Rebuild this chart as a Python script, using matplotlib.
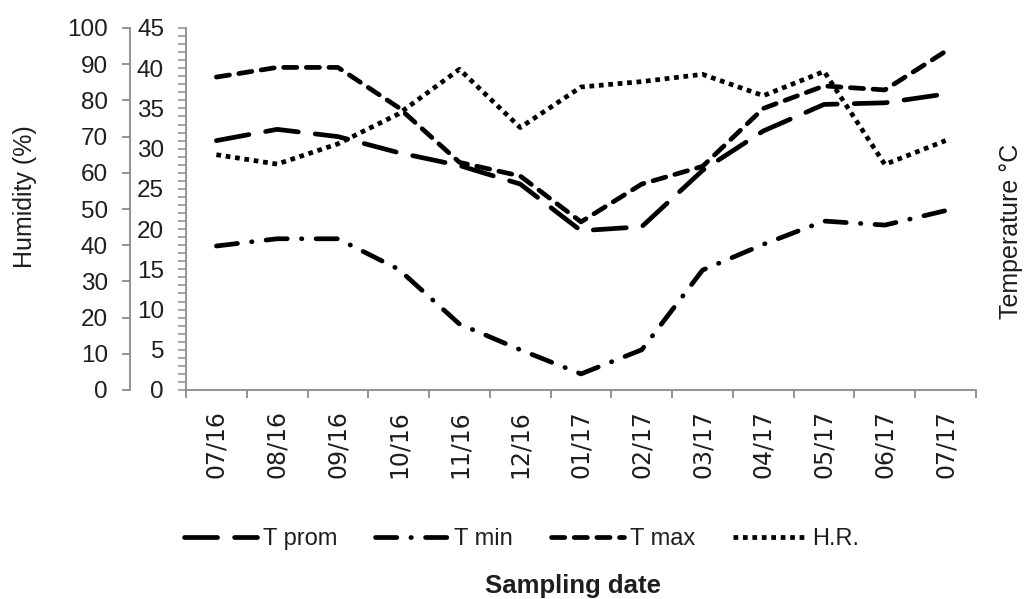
import matplotlib
matplotlib.use('Agg')
import matplotlib.pyplot as plt
from matplotlib.ticker import MultipleLocator
import numpy as np

dates = ['07/16', '08/16', '09/16', '10/16', '11/16', '12/16', '01/17',
         '02/17', '03/17', '04/17', '05/17', '06/17', '07/17']
t_prom = [31.0, 32.4, 31.5, 29.5, 27.9, 25.6, 19.8, 20.3, 27.3, 32.2, 35.5, 35.7, 36.8]
t_min = [17.9, 18.8, 18.8, 15.0, 8.2, 5.0, 2.0, 5.0, 14.9, 18.1, 21.0, 20.5, 22.3]
t_max = [38.9, 40.1, 40.1, 35.1, 28.3, 26.6, 20.9, 25.6, 27.8, 35.0, 37.8, 37.3, 42.1]
hr = [65.0, 62.4, 68.0, 76.3, 88.6, 72.5, 83.7, 85.2, 87.2, 81.3, 88.0, 62.3, 68.9]

W, H = 1024, 599
GRAY = '#8a8a8a'
TXT = '#1e1e1e'
PX = 72 / 100.0  # points per pixel

fig = plt.figure(figsize=(W / 100, H / 100), dpi=100)
ax = fig.add_axes([186 / W, 1 - 390 / H, (976 - 186) / W, (390 - 28) / H])
ax2 = ax.twinx()

x = np.arange(len(dates))
lw = 3.4
l1, = ax.plot(x, t_prom, color='black', lw=lw, dashes=(7.0, 3.6),
              dash_capstyle='round', label='T prom')
l2, = ax.plot(x, t_min, color='black', lw=lw, dashes=(4.5, 3.0, 0.1, 3.0),
              dash_capstyle='round', label='T min')
l3, = ax.plot(x, t_max, color='black', lw=lw, dashes=(2.8, 2.0),
              dash_capstyle='round', label='T max')
l4, = ax2.plot(x, hr, color='black', lw=lw, dashes=(1.0, 1.0),
               dash_capstyle='butt', label='H.R.')

ax.set_xlim(-0.5, len(dates) - 0.5)
ax.set_ylim(0, 45)
ax2.set_ylim(0, 100)

# spines
for a in (ax, ax2):
    a.spines['top'].set_visible(False)
    a.spines['right'].set_visible(False)
ax2.spines['bottom'].set_visible(False)
ax.spines['left'].set_color(GRAY)
ax.spines['bottom'].set_color(GRAY)
ax.spines['left'].set_linewidth(1.3)
ax.spines['bottom'].set_linewidth(1.3)

# humidity axis moved left
ax2.yaxis.set_ticks_position('left')
ax2.yaxis.set_label_position('left')
ax2.spines['left'].set_visible(True)
ax2.spines['left'].set_position(('outward', 56 * PX))
ax2.spines['left'].set_color(GRAY)
ax2.spines['left'].set_linewidth(1.3)
ax2.yaxis.set_major_locator(MultipleLocator(10))
ax2.tick_params(axis='y', which='major', length=8 * PX, width=1.3, color=GRAY,
                pad=14 * PX, labelsize=17.5, labelcolor=TXT)

# temperature axis
ax.yaxis.set_major_locator(MultipleLocator(5))
ax.yaxis.set_minor_locator(MultipleLocator(1))
ax.tick_params(axis='y', which='both', length=8 * PX, width=1.1, color=GRAY)
ax.tick_params(axis='y', which='major', pad=14 * PX, labelsize=17.5, labelcolor=TXT)

# x axis
ax.set_xticks(np.arange(-0.5, len(dates), 1.0))
ax.set_xticklabels([])
ax.set_xticks(x, minor=True)
ax.set_xticklabels(dates, minor=True, rotation=90, family='DejaVu Sans',
                   fontsize=17, color=TXT)
ax.tick_params(axis='x', which='major', length=8 * PX, width=1.3, color=GRAY)
ax.tick_params(axis='x', which='minor', length=0, pad=20 * PX)

for lab in ax.get_yticklabels() + ax2.get_yticklabels():
    lab.set_family('Liberation Sans')

fig.text(25 / W, 1 - 197 / H, 'Humidity (%)', rotation=90, ha='center', va='center',
         fontsize=18, family='Liberation Sans', color=TXT)
fig.text(1011 / W, 1 - 231 / H, 'Temperature °C', rotation=90, ha='center', va='center',
         fontsize=18, family='Liberation Sans', color=TXT)

leg = fig.legend([l1, l2, l3, l4], ['T prom', 'T min', 'T max', 'H.R.'],
                 loc='center left', bbox_to_anchor=(184 / W, 1 - 539 / H), ncol=4,
                 frameon=False, prop={'family': 'Liberation Sans', 'size': 17},
                 handlelength=3.1, handletextpad=0.25, columnspacing=1.6,
                 borderpad=0, borderaxespad=0)
for t in leg.get_texts():
    t.set_color(TXT)

fig.text(573 / W, 1 - 586 / H, 'Sampling date', ha='center', va='center',
         fontsize=18.5, fontweight='bold', family='Liberation Sans', color=TXT)

fig.savefig('out.png', dpi=100)
